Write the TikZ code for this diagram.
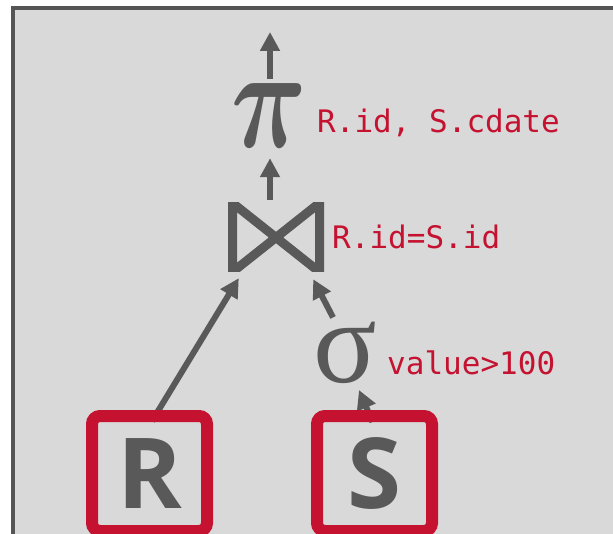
\documentclass[tikz,border=0pt]{standalone}
\usepackage{fontspec}
\usepackage{graphicx}
\usetikzlibrary{arrows.meta}
\setmainfont{Open Sans}
\newfontfamily\codefont{DejaVu Sans Mono}
\newfontfamily\greekfont{Liberation Serif}
\definecolor{opgray}{HTML}{595959}
\definecolor{cmured}{HTML}{C41230}
\definecolor{panelgray}{HTML}{D9D9D9}
\definecolor{framegray}{HTML}{555555}
\pgfdeclarelayer{back}
\pgfsetlayers{back,main}

\begin{document}
\begin{tikzpicture}[x=1pt,y=-1pt,
  arr/.style={opgray,line width=6pt,-{Triangle[length=19pt,width=19pt]}},
  pred/.style={cmured,anchor=base west,inner sep=0pt,font=\codefont\fontsize{31}{36}\selectfont},
  relbox/.style={draw=cmured,line width=12pt,rounded corners=8pt,minimum width=115pt,minimum height=115pt,inner sep=0pt,text=opgray,font=\bfseries\fontsize{98}{100}\selectfont},
  bowtie/.style={inner sep=0pt,minimum width=96pt,minimum height=69pt,
    path picture={
      \draw[opgray,line width=9pt,line join=miter]
        ([xshift=4.5pt]path picture bounding box.north west) --
        ([xshift=4.5pt]path picture bounding box.south west) --
        ([xshift=-4.5pt]path picture bounding box.north east) --
        ([xshift=-4.5pt]path picture bounding box.south east) -- cycle;
    }}]
  \useasboundingbox (0,0) rectangle (613,534);

  % operators
  \node[opgray,inner sep=0pt] (pi) at (269,116) {\scalebox{10.5}[14.4]{\boldmath$\pi$}};
  \node[bowtie] (join) at (276,237.5) {};
  \node[opgray,inner sep=0pt,anchor=base,font=\greekfont\fontsize{118}{124}\selectfont] (sigma) at (345,382) {σ};

  % predicates
  \node[pred] (proj) at (317,133) {R.id, S.cdate};
  \node[pred] (cond) at (332,249) {R.id=S.id};
  \node[pred] (filt) at (387,375) {value>100};

  % base relations
  \node[relbox] (rbox) at (149.5,473.5) {R};
  \node[relbox] (sbox) at (374.5,473.5) {S};

  \begin{pgfonlayer}{back}
    \clip (0,0) rectangle (613,534);
    \draw[framegray,fill=panelgray,line width=4pt] (13,8) rectangle (640,560);
    % arrows
    \coordinate (out) at (270,32);
    \draw[arr,shorten <=5pt] (pi.north -| out) -- (out);
    \draw[arr,shorten <=3pt,shorten >=10pt] (join.north -| out) -- (pi.south -| out);
    \draw[arr] ([xshift=2.5pt,yshift=-11pt]rbox.north) -- ([xshift=11pt,yshift=-6pt]join.south west);
    \draw[arr] ([xshift=-12pt,yshift=4pt]sigma.north) -- ([xshift=-11pt,yshift=-7pt]join.south east);
    \draw[arr] ([xshift=-2pt,yshift=-12pt]sbox.north) -- ([xshift=14pt,yshift=-8pt]sigma.base);
  \end{pgfonlayer}
\end{tikzpicture}
\end{document}
